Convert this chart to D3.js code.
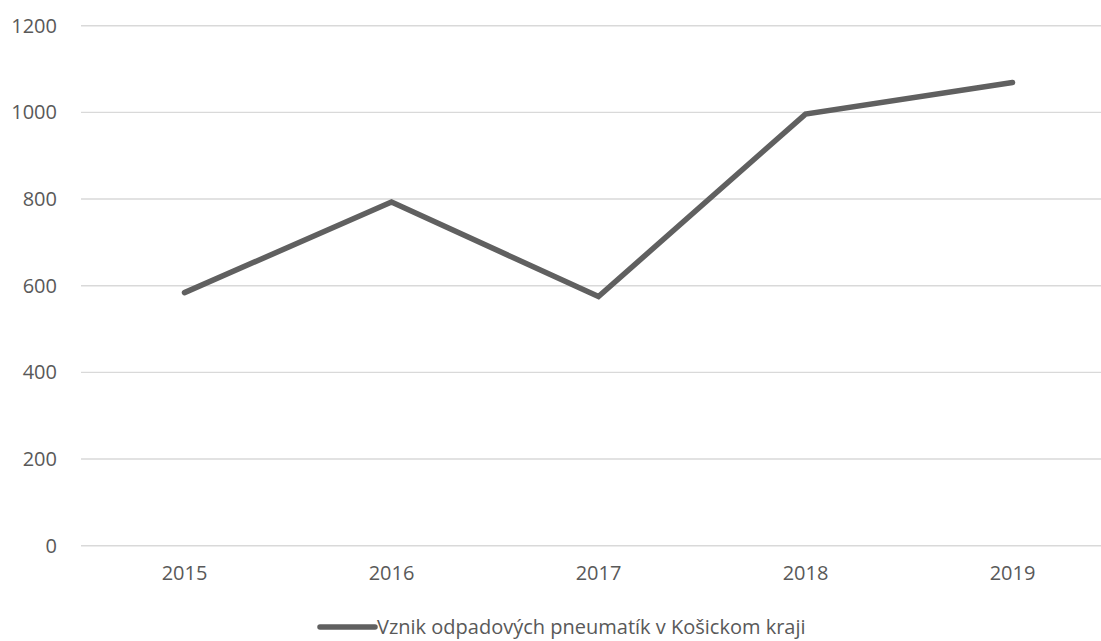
<!DOCTYPE html>
<html>
<head>
<meta charset="utf-8">
<script src="https://cdn.jsdelivr.net/npm/d3@7"></script>
<style>
  html, body { margin: 0; padding: 0; background: #fff; }
  svg { display: block; }
  text { font-family: "Open Sans", "Liberation Sans", sans-serif; fill: #595959; }
</style>
</head>
<body>
<svg id="chart" width="1101" height="641"></svg>
<script>
// Yearly generation of waste tyres in the Košice region
const years = ["2015", "2016", "2017", "2018", "2019"];
const values = [584, 793, 575, 996, 1069];
const yTicks = [0, 200, 400, 600, 800, 1000, 1200];
const seriesName = "Vznik odpadových pneumatík v Košickom kraji";

const W = 1101, H = 641;
const plot = { left: 81, right: 1116, top: 25.7, bottom: 545.7 };

const svg = d3.select("#chart");

const x = d3.scaleBand().domain(years).range([plot.left, plot.right]).padding(0);
const y = d3.scaleLinear().domain([0, 1200]).range([plot.bottom, plot.top]);

// horizontal gridlines
svg.append("g")
  .selectAll("line")
  .data(yTicks)
  .join("line")
  .attr("x1", plot.left)
  .attr("x2", W)
  .attr("y1", d => y(d))
  .attr("y2", d => y(d))
  .attr("stroke", "#d9d9d9")
  .attr("stroke-width", 1.4);

// value axis labels
const yAxis = d3.axisLeft(y).tickValues(yTicks).tickFormat(d3.format("d")).tickSize(0).tickPadding(0);
svg.append("g")
  .attr("transform", `translate(57,0)`)
  .call(yAxis)
  .call(g => g.select(".domain").remove())
  .call(g => g.selectAll("text")
    .attr("font-size", 20)
    .attr("font-family", "'Open Sans', 'Liberation Sans', sans-serif")
    .attr("fill", "#595959"));

// category axis labels
const xAxis = d3.axisBottom(x).tickSize(0).tickPadding(0);
svg.append("g")
  .attr("transform", `translate(0,${plot.bottom + 20})`)
  .call(xAxis)
  .call(g => g.select(".domain").remove())
  .call(g => g.selectAll("text")
    .attr("font-size", 20)
    .attr("font-family", "'Open Sans', 'Liberation Sans', sans-serif")
    .attr("fill", "#595959"));

// data line
const line = d3.line()
  .x((d, i) => x(years[i]) + x.bandwidth() / 2)
  .y(d => y(d));

svg.append("path")
  .datum(values)
  .attr("d", line)
  .attr("fill", "none")
  .attr("stroke", "#606060")
  .attr("stroke-width", 5.5)
  .attr("stroke-linecap", "round")
  .attr("stroke-linejoin", "miter");

// legend
const legend = svg.append("g").attr("transform", "translate(0,627)");
legend.append("line")
  .attr("x1", 320).attr("x2", 375)
  .attr("y1", 0).attr("y2", 0)
  .attr("stroke", "#606060")
  .attr("stroke-width", 5.5)
  .attr("stroke-linecap", "round");
legend.append("text")
  .attr("x", 377)
  .attr("y", 0)
  .attr("dy", "0.35em")
  .attr("font-size", 20)
  .text(seriesName);
</script>
</body>
</html>
